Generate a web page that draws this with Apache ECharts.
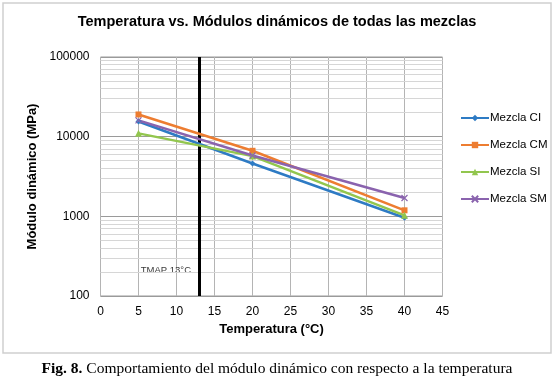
<!DOCTYPE html>
<html>
<head>
<meta charset="utf-8">
<script src="https://cdn.jsdelivr.net/npm/echarts@6/dist/echarts.min.js"></script>
<style>
  html, body { margin: 0; padding: 0; background: #fff; }
  #chart { width: 554px; height: 380px; }
</style>
</head>
<body>
<div id="chart"></div>
<script>
// Datos
const temperaturas = [5, 20, 40];
const mezclaCI = [15500, 4600, 960];
const mezclaCM = [19000, 6650, 1190];
const mezclaSI = [11000, 5700, 1030];
const mezclaSM = [16000, 5800, 1700];
const nombres = ['Mezcla CI', 'Mezcla CM', 'Mezcla SI', 'Mezcla SM'];
const colores = ['#2E7BC4', '#ED7D31', '#92C64E', '#8A63AE'];

// Líneas secundarias de la escala logarítmica
const gridMenor = [200, 300, 400, 500, 600, 700, 800, 900,
  2000, 3000, 4000, 5000, 6000, 7000, 8000, 9000,
  20000, 30000, 40000, 50000, 60000, 70000, 80000, 90000];
const tmap = 13;
const etiquetaTmap = [8.6, 208];

const chart = echarts.init(document.getElementById('chart'));

const pares = vals => temperaturas.map((t, i) => [t, vals[i]]);

const serieBase = (nombre, vals, color, simbolo, tam, extra) => ({
  name: nombre,
  type: 'line',
  data: pares(vals),
  symbol: simbolo,
  symbolSize: tam,
  z: 5,
  lineStyle: { color: color, width: 2.5 },
  itemStyle: Object.assign({ color: color }, extra || {})
});

const option = {
  animation: false,
  textStyle: { fontFamily: 'Liberation Sans, Arial, sans-serif' },
  title: {
    text: 'Temperatura vs. Módulos dinámicos de todas las mezclas',
    left: 'center',
    top: 9,
    textStyle: { fontSize: 14.5, fontWeight: 'bold', color: '#000', fontFamily: 'Liberation Sans, Arial' }
  },
  legend: {
    orient: 'vertical',
    left: 455,
    top: 107,
    itemWidth: 28,
    itemHeight: 8,
    itemGap: 15,
    data: nombres,
    textStyle: { fontSize: 11.5, color: '#000', padding: [0, 0, 0, -4] }
  },
  grid: {
    left: 100.5,
    right: 111.5,
    top: 57,
    bottom: 84,
    show: true,
    borderColor: '#9a9a9a',
    borderWidth: 1
  },
  xAxis: {
    type: 'value',
    min: 0,
    max: 45,
    interval: 5,
    name: 'Temperatura (°C)',
    nameLocation: 'middle',
    nameGap: 26,
    nameTextStyle: { fontSize: 13, fontWeight: 'bold', color: '#000' },
    axisLine: { show: false },
    axisTick: { show: false },
    axisLabel: { fontSize: 12, color: '#000', margin: 10 },
    splitLine: { show: true, lineStyle: { color: '#b4b4b4', width: 1 } }
  },
  yAxis: {
    type: 'log',
    logBase: 10,
    min: 100,
    max: 100000,
    name: 'Módulo dinámico (MPa)',
    nameLocation: 'middle',
    nameGap: 59,
    nameTextStyle: { fontSize: 13, fontWeight: 'bold', color: '#000' },
    axisLine: { show: false },
    axisTick: { show: false },
    axisLabel: { fontSize: 12, color: '#000', margin: 11, formatter: v => String(Math.round(v)) },
    splitLine: { show: true, lineStyle: { color: '#9a9a9a', width: 1 } }
  },
  series: [
    {
      name: 'grid',
      type: 'line',
      data: [],
      z: 1,
      silent: true,
      markLine: {
        silent: true,
        symbol: 'none',
        label: { show: false },
        lineStyle: { color: '#d6d6d6', width: 1, type: 'solid' },
        data: gridMenor.map(v => ({ yAxis: v }))
      }
    },
    {
      name: 'tmap',
      type: 'scatter',
      data: [etiquetaTmap],
      symbolSize: 0,
      z: 3,
      silent: true,
      label: {
        show: true,
        formatter: 'TMAP 13°C',
        fontSize: 9.5,
        color: '#000',
        position: 'inside'
      },
      markLine: {
        silent: true,
        symbol: 'none',
        label: { show: false },
        lineStyle: { color: '#000', width: 3, type: 'solid' },
        data: [{ xAxis: tmap }]
      }
    },
    serieBase(nombres[0], mezclaCI, colores[0], 'diamond', 6),
    serieBase(nombres[1], mezclaCM, colores[1], 'rect', 6),
    serieBase(nombres[2], mezclaSI, colores[2], 'triangle', 7),
    serieBase(nombres[3], mezclaSM, colores[3], 'path://M0,0L10,10M10,0L0,10', 6,
      { color: 'rgba(0,0,0,0)', borderColor: colores[3], borderWidth: 1.2 })
  ],
  graphic: [
    {
      type: 'rect',
      shape: { x: 3, y: 3, width: 548, height: 350 },
      style: { fill: 'none', stroke: '#cfcfcf', lineWidth: 1.5 },
      z: -1
    },
    {
      type: 'text',
      left: 'center',
      top: 361,
      style: {
        text: '{b|Fig. 8.} Comportamiento del módulo dinámico con respecto a la temperatura',
        rich: {
          b: { fontFamily: 'Liberation Serif', fontSize: 15.5, fontWeight: 'bold', fill: '#000' }
        },
        fontFamily: 'Liberation Serif',
        fontSize: 15.5,
        fill: '#000'
      }
    }
  ]
};

chart.setOption(option);
</script>
</body>
</html>
